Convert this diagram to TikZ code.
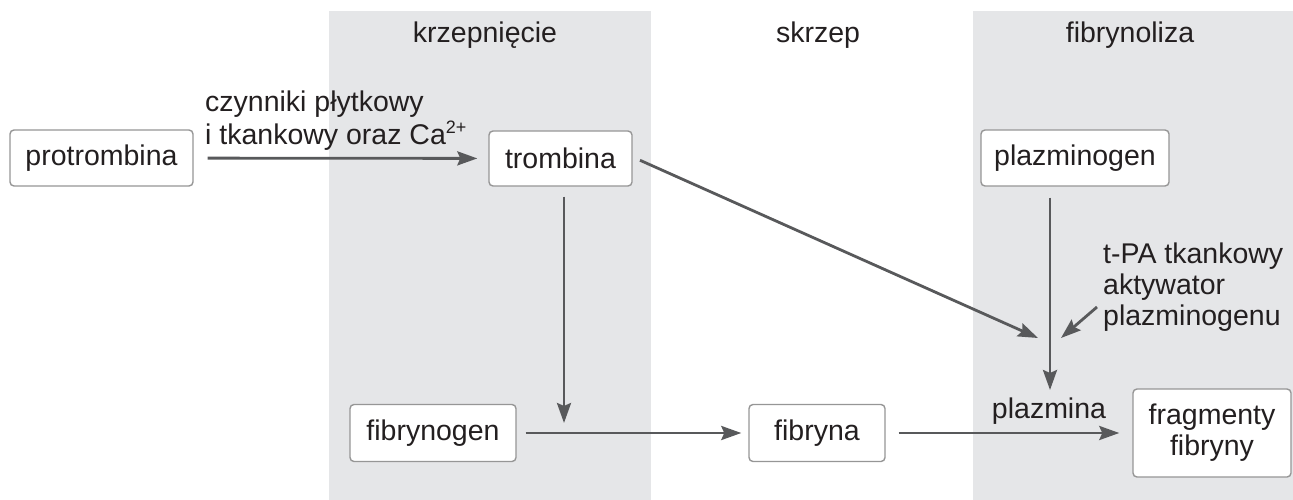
\documentclass[tikz,border=0pt]{standalone}
\usepackage{fontspec}
\setmainfont{Liberation Sans}
\usetikzlibrary{arrows.meta}
\definecolor{panelgray}{RGB}{229,230,232}
\definecolor{boxline}{RGB}{150,150,150}
\definecolor{arrowgray}{RGB}{88,89,91}
\definecolor{txt}{RGB}{35,31,32}
\tikzset{
  panel/.style={fill=panelgray},
  box/.style={draw=boxline, line width=1.4pt, fill=white, rounded corners=4pt,
    inner sep=0pt, align=center, text=txt},
  arr/.style={draw=arrowgray, line width=2.8pt,
    -{Stealth[length=20pt,width=14pt,inset=3pt]}},
  head/.style={text=txt, anchor=base, inner sep=0pt},
  lbl/.style={text=txt, inner sep=0pt}
}
\newcommand{\supsc}[1]{\raisebox{0.36em}{\fontsize{18}{18}\selectfont #1}}
\begin{document}
\begin{tikzpicture}[x=1pt,y=-1pt,font=\fontsize{28.5}{31}\selectfont]
\useasboundingbox (0,0) rectangle (1293,500);
% panels
\fill[panel] (329,11) rectangle (651,500);
\fill[panel] (973,11) rectangle (1293,500);
% headings
\node[head] (hk) at (485,43) {krzepnięcie};
\node[head] (hs) at (818,43) {skrzep};
\node[head] (hf) at (1130,43) {fibrynoliza};
% boxes
\node[box, minimum width=183pt, minimum height=56pt] (protrombina) at (101.5,158) {protrombina};
\node[box, minimum width=143pt, minimum height=55pt] (trombina) at (560.5,158.5) {trombina};
\node[box, minimum width=188pt, minimum height=56pt] (plazminogen) at (1075,158) {plazminogen};
\node[box, minimum width=166pt, minimum height=57pt] (fibrynogen) at (433,433) {fibrynogen};
\node[box, minimum width=136pt, minimum height=57pt] (fibryna) at (817,433) {fibryna};
\node[box, minimum width=158pt, minimum height=88pt] (fragmenty) at (1212,433) {fragmenty\\fibryny};
% labels
\node[lbl, anchor=base west] (czyn) at (205,112)
  {\begin{tabular}[t]{@{}l@{}}czynniki płytkowy\\i tkankowy oraz Ca\supsc{2+}\end{tabular}};
\node[lbl, anchor=base west] (tpa) at (1103,263)
  {\begin{tabular}[t]{@{}l@{}}t-PA tkankowy\\aktywator\\plazminogenu\end{tabular}};
\node[lbl, anchor=base] (plazmina) at (1049,418) {plazmina};
% coordinates
\coordinate (c1) at (564,423);
\coordinate (j1) at (1038,338);
\coordinate (j2) at (1061,338);
\coordinate (t0) at (1097,307);
\coordinate (j3) at (1050,390);
% connectors
\draw[arr, shorten <=14pt, shorten >=11pt] (protrombina) -- (trombina);
\draw[arr, shorten <=10pt] (trombina.south -| c1) -- (c1);
\draw[arr, shorten <=8pt] ([yshift=1.5pt]trombina.east) -- (j1);
\draw[arr] (t0) -- (j2);
\draw[arr, shorten <=11pt] (plazminogen.south -| j3) -- (j3);
\draw[arr, shorten <=9pt, shorten >=7pt] (fibrynogen) -- (fibryna);
\draw[arr, shorten <=13pt, shorten >=13pt] (fibryna) -- (fragmenty);
\end{tikzpicture}
\end{document}
